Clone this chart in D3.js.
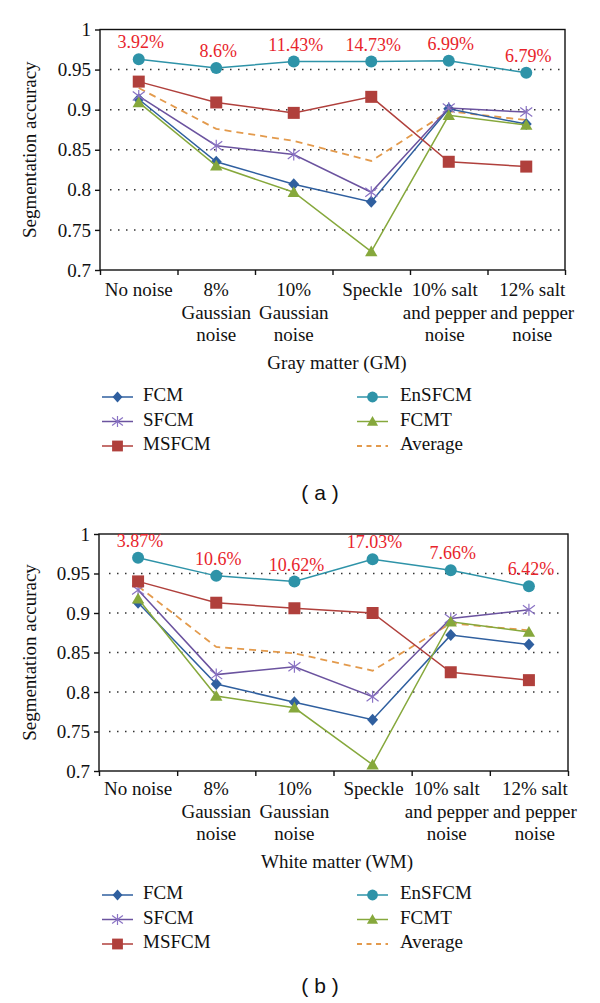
<!DOCTYPE html>
<html>
<head>
<meta charset="utf-8">
<script src="https://cdn.jsdelivr.net/npm/d3@7"></script>
<style>
  body { margin: 0; background: #fff; }
</style>
</head>
<body>
<div id="chart"></div>
<script>
// categories (noise types), each split into its text lines
const categories = ['No noise', '8% Gaussian noise', '10% Gaussian noise', 'Speckle', '10% salt and pepper noise', '12% salt and pepper noise'];
const categoryLines = [['No noise'], ['8%', 'Gaussian', 'noise'], ['10%', 'Gaussian', 'noise'], ['Speckle'], ['10% salt', 'and pepper', 'noise'], ['12% salt', 'and pepper', 'noise']];
const yTicks = [0.7, 0.75, 0.8, 0.85, 0.9, 0.95, 1];
const gridTicks = [0.75, 0.8, 0.85, 0.9, 0.95];
const seriesNames = ['FCM', 'SFCM', 'MSFCM', 'EnSFCM', 'FCMT', 'Average'];

// (a) gray matter
const gmFCM = [0.913, 0.835, 0.807, 0.785, 0.901, 0.882];
const gmSFCM = [0.917, 0.855, 0.844, 0.797, 0.902, 0.897];
const gmMSFCM = [0.935, 0.909, 0.896, 0.916, 0.835, 0.829];
const gmEnSFCM = [0.963, 0.952, 0.960, 0.960, 0.961, 0.946];
const gmFCMT = [0.909, 0.830, 0.797, 0.723, 0.893, 0.881];
const gmAverage = [0.927, 0.876, 0.861, 0.836, 0.898, 0.887];
const gmGain = ['3.92%', '8.6%', '11.43%', '14.73%', '6.99%', '6.79%'];

// (b) white matter
const wmFCM = [0.913, 0.810, 0.787, 0.765, 0.872, 0.860];
const wmSFCM = [0.929, 0.822, 0.832, 0.794, 0.893, 0.904];
const wmMSFCM = [0.940, 0.913, 0.906, 0.900, 0.825, 0.815];
const wmEnSFCM = [0.970, 0.947, 0.940, 0.968, 0.954, 0.934];
const wmFCMT = [0.918, 0.795, 0.780, 0.708, 0.889, 0.876];
const wmAverage = [0.934, 0.857, 0.849, 0.827, 0.887, 0.878];
const wmGain = ['3.87%', '10.6%', '10.62%', '17.03%', '7.66%', '6.42%'];

const SERIF = "'Liberation Serif'";
const SANS = "'Liberation Sans'";

const styles = {
  FCM: {color: '#2f5f9f', marker: 'diamond'},
  SFCM: {color: '#6b539f', mcolor: '#8a73c4', marker: 'star'},
  MSFCM: {color: '#b0403c', marker: 'square'},
  EnSFCM: {color: '#2e93a8', marker: 'circle'},
  FCMT: {color: '#86a83c', marker: 'triangle'},
  Average: {color: '#e39a4c', dash: '7,5'}
};

const svg = d3.select('#chart').append('svg').attr('width', 600).attr('height', 1003);

const drawMarker = (g, type, color, s) => {
  if (type === 'diamond') {
    g.append('path').attr('d', `M0,${-6 * s}L${5.5 * s},0L0,${6 * s}L${-5.5 * s},0Z`).attr('fill', color);
  } else if (type === 'square') {
    g.append('rect').attr('x', -6 * s).attr('y', -6 * s).attr('width', 12 * s).attr('height', 12 * s).attr('fill', color);
  } else if (type === 'circle') {
    g.append('circle').attr('r', 6 * s).attr('fill', color);
  } else if (type === 'triangle') {
    g.append('path').attr('d', `M0,${-6 * s}L${6.2 * s},${4.8 * s}L${-6.2 * s},${4.8 * s}Z`).attr('fill', color);
  } else if (type === 'star') {
    const r = 6 * s;
    g.append('path')
      .attr('d', `M${-r},${-r * 0.75}L${r},${r * 0.75}M${-r},${r * 0.75}L${r},${-r * 0.75}M0,${-r}L0,${r}`)
      .attr('stroke', color).attr('stroke-width', 1.2).attr('fill', 'none');
  }
};

const drawPanel = (cfg, data) => {
  const {left, right, top, bottom} = cfg;
  const g = svg.append('g');
  const x = d3.scaleBand().domain(categories).range([left, right]);
  const xEdge = d3.scaleLinear().domain([0, categories.length]).range([left, right]);
  const y = d3.scaleLinear().domain([0.7, 1]).range([bottom, top]);
  const cx = i => x(categories[i]) + x.bandwidth() / 2;

  // dotted grid
  g.selectAll('line.grid').data(gridTicks).join('line')
    .attr('class', 'grid')
    .attr('x1', left + 10).attr('x2', right - 4)
    .attr('y1', d => y(d)).attr('y2', d => y(d))
    .attr('stroke', '#333').attr('stroke-width', 1.5)
    .attr('stroke-dasharray', '1.5,6.5');

  // frame
  g.append('rect').attr('x', left).attr('y', top).attr('width', right - left).attr('height', bottom - top)
    .attr('fill', 'none').attr('stroke', '#111').attr('stroke-width', 1.4);

  const yAxis = g.append('g').attr('transform', `translate(${left},0)`)
    .call(d3.axisLeft(y).tickValues(yTicks).tickSize(5).tickPadding(4).tickFormat(d => String(d)));
  yAxis.select('.domain').remove();
  yAxis.selectAll('line').attr('stroke', '#111').attr('stroke-width', 1.4);
  yAxis.selectAll('text').attr('fill', '#111').style('font-family', SERIF).style('font-size', '19px');

  const xAxis = g.append('g').attr('transform', `translate(0,${bottom})`)
    .call(d3.axisBottom(xEdge).ticks(categories.length).tickSize(5).tickFormat(''));
  xAxis.select('.domain').remove();
  xAxis.selectAll('line').attr('stroke', '#111').attr('stroke-width', 1.4);

  // category labels (last two nudged apart as in the original layout)
  const nudge = [0, 0, 0, 1, -4, 6];
  categories.forEach((c, i) => {
    const t = g.append('text').attr('text-anchor', 'middle').attr('fill', '#111')
      .style('font-family', SERIF).style('font-size', '19px')
      .attr('x', cx(i) + nudge[i]).attr('y', cfg.tickY);
    categoryLines[i].forEach((line, j) => {
      t.append('tspan').attr('x', cx(i) + nudge[i]).attr('dy', j === 0 ? 0 : 22.5).text(line);
    });
  });

  g.append('text').attr('transform', `translate(32,${(top + bottom) / 2}) rotate(-90)`)
    .attr('text-anchor', 'middle').attr('dominant-baseline', 'middle')
    .style('font-family', SERIF).style('font-size', '19px').attr('fill', '#111').text('Segmentation accuracy');

  g.append('text').attr('x', 337).attr('y', cfg.titleY).attr('text-anchor', 'middle')
    .style('font-family', SERIF).style('font-size', '19px').attr('fill', '#111').text(cfg.title);

  const line = d3.line().x((d, i) => cx(i)).y(d => y(d));
  const order = ['Average', 'FCM', 'SFCM', 'MSFCM', 'EnSFCM', 'FCMT'];
  order.forEach(name => {
    const st = styles[name];
    g.append('path').datum(data[name]).attr('d', line)
      .attr('fill', 'none').attr('stroke', st.color).attr('stroke-width', st.dash ? 1.8 : 1.5)
      .attr('stroke-dasharray', st.dash || null);
    if (st.marker) {
      data[name].forEach((v, i) => {
        const m = g.append('g').attr('transform', `translate(${cx(i)},${y(v)})`);
        drawMarker(m, st.marker, st.mcolor || st.color, 1);
      });
    }
  });

  // improvement labels above EnSFCM
  g.selectAll('text.gain').data(data.gain).join('text')
    .attr('class', 'gain')
    .attr('x', (d, i) => cx(i) + 2)
    .attr('y', (d, i) => y(data.EnSFCM[i]) - 15)
    .attr('dominant-baseline', 'middle').attr('text-anchor', 'middle')
    .style('font-family', SERIF).style('font-size', '18px').attr('fill', '#e8242b').text(d => d);

  // legend
  seriesNames.forEach((name, i) => {
    const st = styles[name];
    const col = Math.floor(i / 3), row = i % 3;
    const lx = col === 0 ? 102 : 357;
    const ly = cfg.legendY + row * 24.5;
    const lg = g.append('g');
    lg.append('line').attr('x1', lx).attr('x2', lx + 31).attr('y1', ly).attr('y2', ly)
      .attr('stroke', st.color).attr('stroke-width', st.dash ? 1.8 : 1.5)
      .attr('stroke-dasharray', st.dash ? '5,4.5' : null);
    if (st.marker) {
      const m = lg.append('g').attr('transform', `translate(${lx + 15.5},${ly})`);
      drawMarker(m, st.marker, st.mcolor || st.color, 0.9);
    }
    lg.append('text').attr('x', lx + (col === 0 ? 41 : 43)).attr('y', ly).attr('dominant-baseline', 'middle')
      .style('font-family', SERIF).style('font-size', '19px').attr('fill', '#111').text(name);
  });

  g.append('text').attr('x', 320).attr('y', cfg.captionY).attr('text-anchor', 'middle')
    .attr('dominant-baseline', 'middle')
    .style('font-family', SANS).style('font-size', '21px').attr('fill', '#111').text(cfg.caption);
};

drawPanel(
  {left: 100, right: 565, top: 29.5, bottom: 270, tickY: 296, titleY: 369, legendY: 397, captionY: 494, title: 'Gray matter (GM)', caption: '( a )'},
  {FCM: gmFCM, SFCM: gmSFCM, MSFCM: gmMSFCM, EnSFCM: gmEnSFCM, FCMT: gmFCMT, Average: gmAverage, gain: gmGain}
);
drawPanel(
  {left: 99, right: 568, top: 534, bottom: 771, tickY: 795, titleY: 868, legendY: 895, captionY: 987, title: 'White matter (WM)', caption: '( b )'},
  {FCM: wmFCM, SFCM: wmSFCM, MSFCM: wmMSFCM, EnSFCM: wmEnSFCM, FCMT: wmFCMT, Average: wmAverage, gain: wmGain}
);
</script>
</body>
</html>
